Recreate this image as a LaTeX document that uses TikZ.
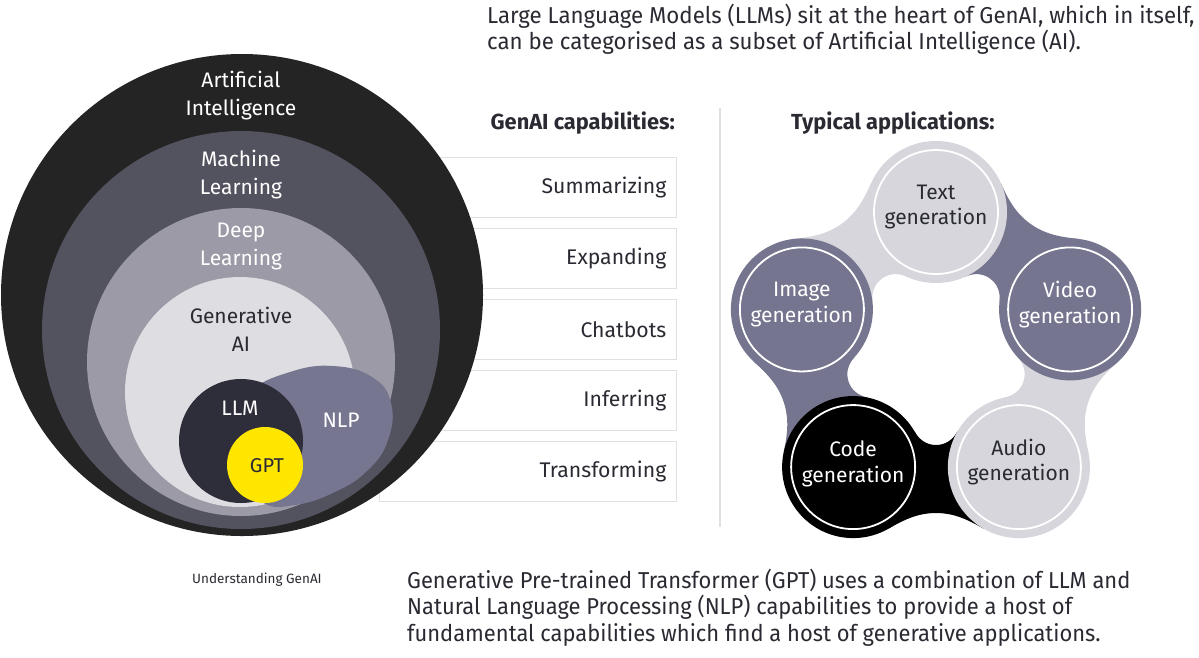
\documentclass[tikz,border=0pt]{standalone}
\usepackage{fontspec}
\setmainfont{Fira Sans}
\newfontfamily\condfont[FakeStretch=0.968]{Fira Sans}
\newfontfamily\condfontb[FakeStretch=0.953]{Fira Sans}
\usetikzlibrary{calc}
\definecolor{aiC}{HTML}{242424}
\definecolor{mlC}{HTML}{53525F}
\definecolor{dlC}{HTML}{9B9AA6}
\definecolor{gaC}{HTML}{DDDDE2}
\definecolor{llmC}{HTML}{2E2D3A}
\definecolor{nlpC}{HTML}{767690}
\definecolor{gptC}{HTML}{FFE600}
\definecolor{slateC}{HTML}{75758F}
\definecolor{lightC}{HTML}{D6D6DC}
\definecolor{darkT}{HTML}{2A2A33}
\definecolor{boxG}{HTML}{E0E0E0}
\tikzset{
  lbl/.style={align=center, inner sep=0pt, font=\fontsize{21}{28}\selectfont},
  capbox/.style={draw=boxG, line width=1.4pt, fill=white, minimum width=297pt, minimum height=60pt,
     text width=277pt, align=right, inner xsep=10pt, anchor=north east, font=\fontsize{21.2}{24}\selectfont, text=darkT},
  appc/.style={circle, minimum size=142pt, inner sep=0pt},
  applbl/.style={align=center, inner sep=0pt, yshift=5pt, font=\fontsize{21}{25.5}\selectfont},
  ring/.style={draw=white, line width=1.8pt},
  para/.style={anchor=north west, align=left, inner sep=0pt, font=\condfont\fontsize{23}{26.3}\selectfont, text=darkT},
  head/.style={inner sep=0pt, font=\bfseries\fontsize{21.8}{24}\selectfont, text=darkT}
}
\newcommand{\bandshape}{%
  (175.6,-47.4) .. controls (166.6,-31.8) and (160,-18) .. (160,0)
  .. controls (160,18) and (166.6,31.8) .. (175.6,47.4)
  -- (114.07,82.88) -- (78.6,21.4)
  .. controls (87.3,16.4) and (92,9) .. (92,0)
  .. controls (92,-9) and (87.3,-16.4) .. (78.6,-21.4)
  -- (114.07,-82.88) -- cycle}
\begin{document}
\begin{tikzpicture}[x=1pt,y=-1pt]
\useasboundingbox (0,0) rectangle (1199,657);
\fill[white] (0,0) rectangle (1199,657);

% top paragraph
\node[para] (toptext) at (487,4) {Large Language Models (LLMs) sit at the heart of GenAI, which in itself,\\can be categorised as a subset of Artificial Intelligence (AI).};

% headers
\node[head, anchor=east] (caphead) at (675,123) {GenAI capabilities:};
\node[head, anchor=west] (apphead) at (791,123) {Typical applications:};

% divider
\draw[boxG, line width=1.2pt] (720,108) -- (720,527);

% capability boxes
\node[capbox] (sum) at (677,157) {Summarizing};
\node[capbox] (exp) at (677,228) {Expanding};
\node[capbox] (chat) at (677,299) {Chatbots};
\node[capbox] (inf) at (677,370) {Inferring};
\node[capbox] (tra) at (677,441) {Transforming};

% nested circles
\fill[aiC] (242,295) circle (241);
\fill[mlC] (241,330) circle (199);
\fill[dlC] (241,362) circle (154);
\fill[gaC] (240,392) circle (115);
\fill[nlpC] plot[smooth cycle, tension=0.75] coordinates {(250,392) (290,372) (333,366) (372,377) (391,403) (388,440) (368,470) (335,492) (295,505) (262,502) (240,470) (236,425)};
\fill[llmC] (241,441) circle (62);
\fill[gptC] (265,465) circle (38);

\node[lbl, text=white] (ai) at (241,96) {Artificial\\Intelligence};
\node[lbl, text=white] (ml) at (241,175) {Machine\\Learning};
\node[lbl, text=white] (dl) at (241,246) {Deep\\Learning};
\node[lbl, text=darkT] (ga) at (241,329) {Generative\\AI};
\node[lbl, text=white] (llm) at (240,408) {LLM};
\node[lbl, text=white] (nlp) at (341,420) {NLP};
\node[lbl, text=darkT, font=\fontsize{20}{24}\selectfont] (gpt) at (267,466) {GPT};

% caption
\node[inner sep=0pt, anchor=west, font=\fontsize{13.5}{16}\selectfont, text=darkT] (cap) at (192,580) {Understanding GenAI};

% application ring
\begin{scope}[shift={(936,353)}]
  \begin{scope}[rotate=54]\fill[slateC] \bandshape;\end{scope}
  \begin{scope}[rotate=-18]\fill[lightC] \bandshape;\end{scope}
  \begin{scope}[rotate=-90]\fill[black] \bandshape;\end{scope}
  \begin{scope}[rotate=-162]\fill[slateC] \bandshape;\end{scope}
  \begin{scope}[rotate=-234]\fill[lightC] \bandshape;\end{scope}

  \node[appc, fill=lightC] (txt) at (-90:141) {};
  \node[appc, fill=slateC] (vid) at (-18:141) {};
  \node[appc, fill=lightC] (aud) at (54:141) {};
  \node[appc, fill=black] (code) at (126:141) {};
  \node[appc, fill=slateC] (img) at (198:141) {};
  \foreach \n in {txt,vid,aud,code,img} \draw[ring] (\n.center) circle (62);
  \node[applbl, text=darkT] (txtl) at (txt.center) {Text\\generation};
  \node[applbl, text=white] (vidl) at (vid.center) {Video\\generation};
  \node[applbl, text=darkT] (audl) at (aud.center) {Audio\\generation};
  \node[applbl, text=white, yshift=-2pt] (codel) at (code.center) {Code\\generation};
  \node[applbl, text=white] (imgl) at (img.center) {Image\\generation};
\end{scope}

% bottom paragraph
\node[para, font=\condfontb\fontsize{23}{26.3}\selectfont] (bottext) at (407,569) {Generative Pre-trained Transformer (GPT) uses a combination of LLM and\\Natural Language Processing (NLP) capabilities to provide a host of\\fundamental capabilities which find a host of generative applications.};
\end{tikzpicture}
\end{document}
